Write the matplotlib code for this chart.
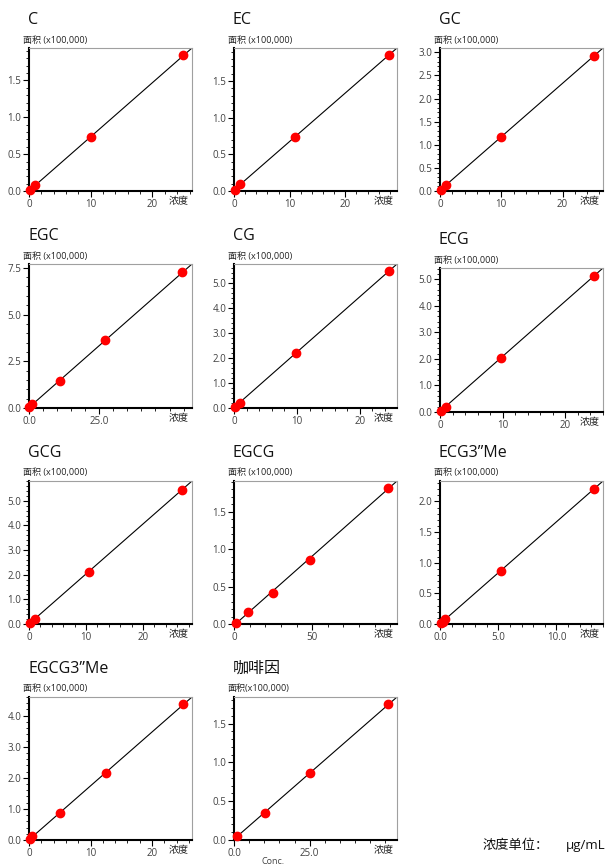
import numpy as np
import matplotlib
matplotlib.use("Agg")
import matplotlib.pyplot as plt
from matplotlib.ticker import MultipleLocator

plt.rcParams["font.family"] = ["Open Sans", "Noto Sans CJK SC", "DejaVu Sans"]

# ── Data (concentration, area x100,000) ──────────────────────────────────────
NAMES = ["C", "EC", "GC", "EGC", "CG", "ECG", "GCG", "EGCG",
         "ECG3\u201dMe", "EGCG3\u201dMe", "咖啡因"]

C_X = [0.1, 1.0, 10.0, 25.0]
C_Y = [0.01, 0.08, 0.73, 1.84]
EC_X = [0.1, 1.1, 11.0, 27.8]
EC_Y = [0.02, 0.09, 0.74, 1.85]
GC_X = [0.1, 1.0, 9.9, 25.1]
GC_Y = [0.03, 0.13, 1.16, 2.92]
EGC_X = [0.1, 1.1, 11.0, 27.2, 54.6]
EGC_Y = [0.05, 0.19, 1.47, 3.62, 7.26]
CG_X = [0.1, 0.9, 9.8, 24.6]
CG_Y = [0.05, 0.2, 2.2, 5.46]
ECG_X = [0.1, 0.9, 9.7, 24.5]
ECG_Y = [0.05, 0.2, 2.03, 5.11]
GCG_X = [0.1, 1.0, 10.5, 26.8]
GCG_Y = [0.03, 0.2, 2.13, 5.44]
EGCG_X = [1.0, 9.2, 24.7, 48.9, 98.7]
EGCG_Y = [0.02, 0.16, 0.42, 0.86, 1.82]
ECG3ME_X = [0.05, 0.25, 0.46, 5.2, 13.2]
ECG3ME_Y = [0.01, 0.04, 0.08, 0.87, 2.2]
EGCG3ME_X = [0.1, 0.55, 5.1, 12.5, 25.0]
EGCG3ME_Y = [0.04, 0.13, 0.86, 2.15, 4.36]
CAF_X = [0.9, 10.1, 25.2, 50.9]
CAF_Y = [0.05, 0.35, 0.86, 1.75]

XS = [C_X, EC_X, GC_X, EGC_X, CG_X, ECG_X, GCG_X, EGCG_X, ECG3ME_X, EGCG3ME_X, CAF_X]
YS = [C_Y, EC_Y, GC_Y, EGC_Y, CG_Y, ECG_Y, GCG_Y, EGCG_Y, ECG3ME_Y, EGCG3ME_Y, CAF_Y]

# axis ranges / ticks
X_MAX = [26.4, 29.3, 26.6, 58.0, 25.9, 26.0, 28.6, 104.3, 14.0, 26.5, 53.8]
X_TICKS = [[0, 10, 20], [0, 10, 20], [0, 10, 20], [0, 25], [0, 10, 20], [0, 10, 20],
           [0, 10, 20], [0, 50], [0, 5, 10], [0, 10, 20], [0, 25]]
X_LABELS = [["0", "10", "20"], ["0", "10", "20"], ["0", "10", "20"], ["0.0", "25.0"],
            ["0", "10", "20"], ["0", "10", "20"], ["0", "10", "20"], ["0", "50"],
            ["0.0", "5.0", "10.0"], ["0", "10", "20"], ["0.0", "25.0"]]
X_MINOR = [2, 2, 2, 5, 2, 2, 2, 10, 1, 2, 5]
Y_STEP = [0.5, 0.5, 0.5, 2.5, 1.0, 1.0, 1.0, 0.5, 0.5, 1.0, 0.5]
Y_MINOR = [0.1, 0.1, 0.1, 0.5, 0.2, 0.2, 0.2, 0.1, 0.1, 0.2, 0.1]

# ── Layout (pixels) ──────────────────────────────────────────────────────────
W, H = 608, 865
COL_L = [29, 234, 440]
AX_W = 163
ROW_TB = [(48, 191), (264, 408), (481, 624), (697, 840)]

fig = plt.figure(figsize=(W / 100, H / 100), dpi=100)
fig.patch.set_facecolor("white")

TICK_C = "#404040"

for i, name in enumerate(NAMES):
    r, c = divmod(i, 3)
    top, bot = ROW_TB[r]
    if name == "ECG":
        top, bot = top + 4, bot + 4
    left = COL_L[c]
    ax = fig.add_axes([left / W, 1 - bot / H, AX_W / W, (bot - top) / H])

    x = np.array(XS[i])
    y = np.array(YS[i])
    k, b = np.polyfit(x, y, 1)
    xmax = X_MAX[i]
    ymax = k * xmax + b

    xl = np.array([0, xmax])
    ax.plot(xl, k * xl + b, color="black", lw=0.8, zorder=2)
    ax.scatter(x, y, s=36, color="#ff0000", zorder=3, clip_on=False)

    ax.set_xlim(0, xmax)
    ax.set_ylim(0, ymax)
    ax.set_xticks(X_TICKS[i])
    ax.set_xticklabels(X_LABELS[i])
    ax.xaxis.set_minor_locator(MultipleLocator(X_MINOR[i]))
    ax.yaxis.set_major_locator(MultipleLocator(Y_STEP[i]))
    ax.yaxis.set_minor_locator(MultipleLocator(Y_MINOR[i]))
    ax.yaxis.set_major_formatter(matplotlib.ticker.FormatStrFormatter("%.1f"))

    ax.tick_params(axis="both", which="major", labelsize=7, labelcolor=TICK_C,
                   length=4, width=0.8, color="black", pad=1.5)
    ax.tick_params(axis="both", which="minor", length=2.5, width=0.6, color="black")

    for s in ("left", "bottom"):
        ax.spines[s].set_linewidth(1.5)
        ax.spines[s].set_color("black")
    for s in ("top", "right"):
        ax.spines[s].set_linewidth(0.8)
        ax.spines[s].set_color("#a0a0a0")

    # title and axis captions
    fig.text((left - 1) / W, 1 - (top - 28) / H, name, fontsize=11.5,
             ha="left", va="center", color="#111111")
    ylab = "面积(x100,000)" if name == "咖啡因" else "面积 (x100,000)"
    fig.text((left - 6) / W, 1 - (top - 8) / H, ylab, fontsize=6.5,
             ha="left", va="center", color="#222222")
    fig.text((left + AX_W - 3) / W, 1 - (bot + 11) / H, "浓度", fontsize=7.2,
             ha="right", va="center", color="#222222")

# footer
fig.text(483 / W, 1 - 845 / H, "浓度单位：", fontsize=9.5, ha="left", va="center",
         color="#111111")
fig.text(566 / W, 1 - 846 / H, "μg/mL", fontsize=9.5, ha="left", va="center",
         color="#111111")
fig.text(261 / W, 1 - 857 / H, "Conc.", fontsize=6.5, ha="left", va="top",
         color="#444444")

fig.savefig("out.png", dpi=100, facecolor="white")
